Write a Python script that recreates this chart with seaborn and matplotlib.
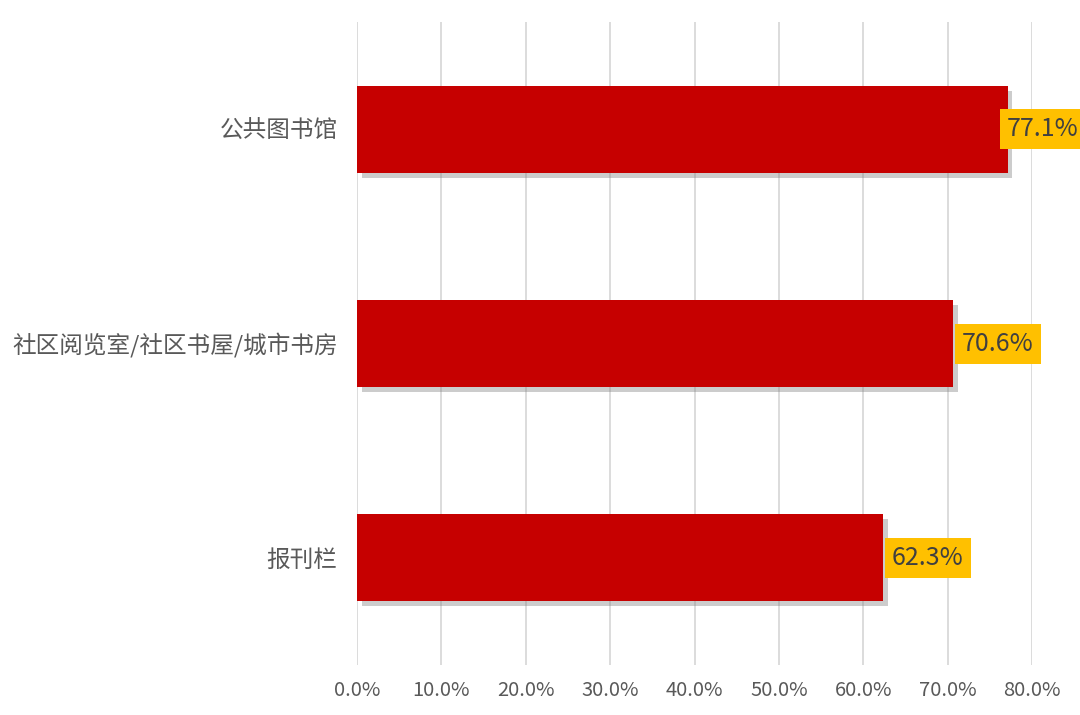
import matplotlib
matplotlib.use("Agg")
import matplotlib.pyplot as plt
import matplotlib.patheffects as pe
import seaborn as sns
import pandas as pd

categories = ["公共图书馆", "社区阅览室/社区书屋/城市书房", "报刊栏"]
values = [77.1, 70.6, 62.3]
tick_values = [0, 10, 20, 30, 40, 50, 60, 70, 80]
tick_labels = ["0.0%", "10.0%", "20.0%", "30.0%", "40.0%", "50.0%", "60.0%", "70.0%", "80.0%"]

sns.set_style("white")
plt.rcParams['font.family'] = ['Noto Sans CJK SC', 'DejaVu Sans']

df = pd.DataFrame({"cat": categories, "val": values})

fig = plt.figure(figsize=(10.8, 7.15), dpi=100)
ax = fig.add_axes([0.3306, 0.0699, 0.6250, 0.8991])

sns.barplot(data=df, y="cat", x="val", orient="h", color="#C60000",
            width=0.405, ax=ax, saturation=1, zorder=3)

for p in ax.patches:
    p.set_edgecolor("none")
    p.set_path_effects([pe.SimplePatchShadow(offset=(3.5, -3.5), shadow_rgbFace="#808080", alpha=0.4),
                        pe.Normal()])

ax.set_xlim(0, 80)
ax.set_ylim(2.5, -0.5)
ax.set_xticks(tick_values)
ax.set_xticklabels(tick_labels, fontsize=14.5, color="#595959")
ax.tick_params(axis="y", labelsize=17, labelcolor="#595959", length=0, pad=14)
ax.tick_params(axis="x", length=0, pad=11)
ax.set_xlabel("")
ax.set_ylabel("")
ax.xaxis.grid(True, color="#D9D9D9", linewidth=1.3, zorder=0)
ax.yaxis.grid(False)
for s in ax.spines.values():
    s.set_visible(False)

for i, v in enumerate(values):
    x = min(v + 1.1, 77.0)
    ax.text(x, i, f"{v:.1f}%", ha="left", va="center", fontsize=18, color="#404040",
            zorder=5, clip_on=False,
            bbox=dict(boxstyle="square,pad=0.28", facecolor="#FFC000", edgecolor="none"))

fig.savefig("out.png", dpi=100)
